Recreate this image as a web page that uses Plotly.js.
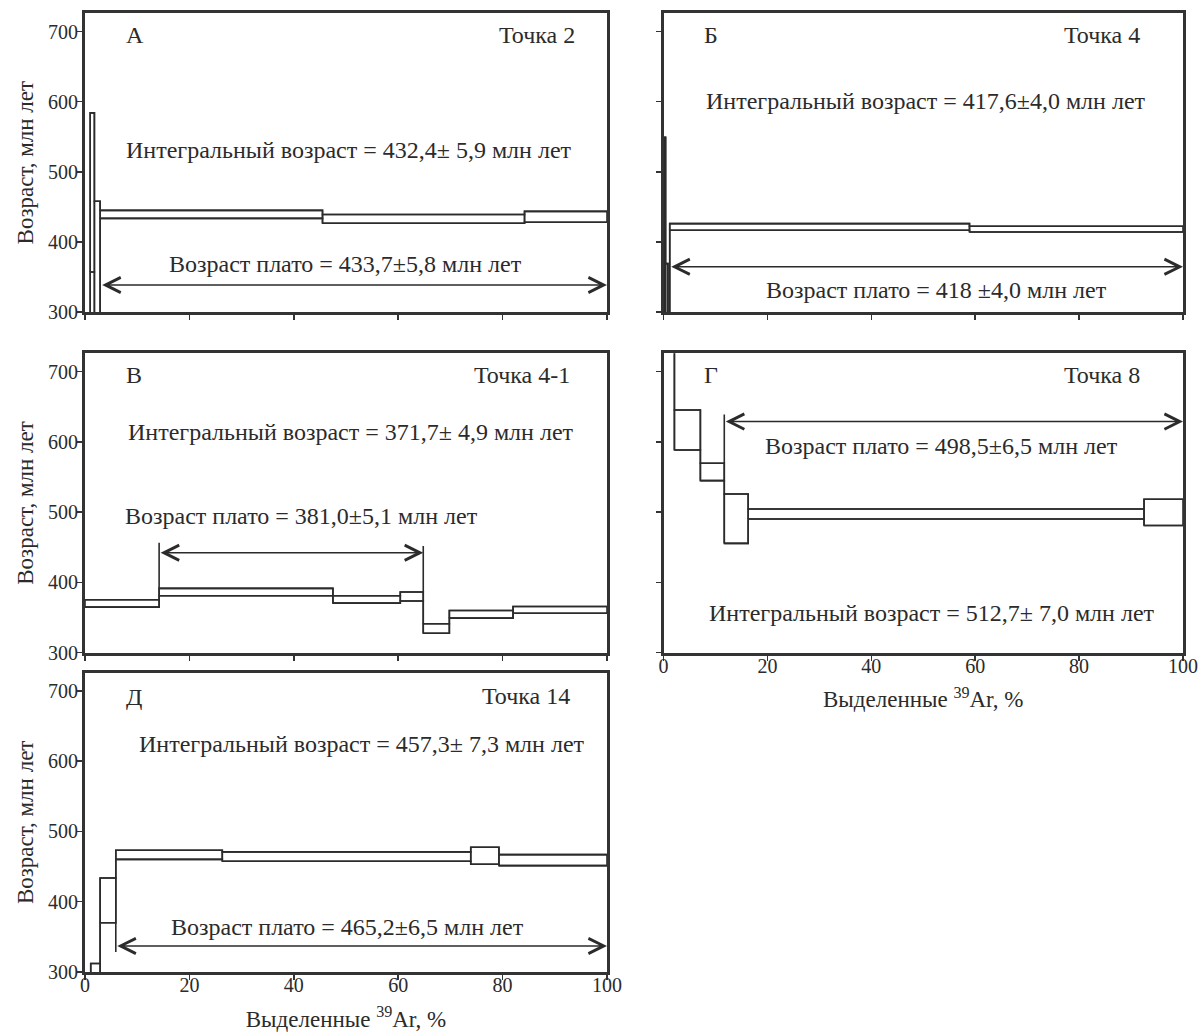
<!DOCTYPE html>
<html>
<head>
<meta charset="utf-8">
<script src="https://cdn.plot.ly/plotly-3.0.1.min.js"></script>
<style>
html,body{margin:0;padding:0;background:#ffffff;}
#chart{width:1198px;height:1034px;}
</style>
</head>
<body>
<div id="chart"></div>
<script>
// ---------- DATA ----------
// step boundaries (released 39Ar, %), upper and lower age bounds (Ma) of each step
const edgesA = [0, 1.0, 1.8, 2.9, 45.5, 84.2, 100];
const upperA = [280, 584, 458, 445, 439, 443.5];
const lowerA = [250, 357, 260, 433.5, 426.5, 428];

const edgesB = [0, 0.1, 0.4, 0.85, 1.2, 58.9, 100];
const upperB = [270, 549, 369, 290, 426, 422.3];
const lowerB = [250, 255, 260, 260, 416.6, 414.2];

const edgesV = [0, 14.2, 47.5, 60.4, 64.8, 69.8, 82.0, 100];
const upperV = [375.4, 391.6, 381.1, 386.4, 341.1, 360.1, 365.8];
const lowerV = [364.9, 381.1, 370.6, 373.5, 327.7, 349.2, 356.2];

const edgesG = [0, 2.1, 7.1, 11.7, 16.3, 92.5, 100];
const upperG = [800, 645.4, 569.5, 525.9, 504.5, 518.3];
const lowerG = [760, 588.4, 544.8, 455.6, 490.3, 481.0];

const edgesD = [0, 1.1, 2.9, 5.9, 26.3, 73.9, 79.3, 100];
const upperD = [280, 312, 433.8, 473.2, 471.0, 477.6, 467.1];
const lowerD = [250, 260, 370.2, 460.3, 457.6, 453.3, 451.4];

// plateau arrows: start / end (%), age level of the arrow (Ma)
const plateauStart = [3.0, 1.2, 14.2, 11.7, 5.9];
const plateauEnd = [100, 100, 64.8, 100, 100];
const plateauArrowAge = [338.5, 364.5, 442.2, 628.8, 337.1];

// plateau boundary marker segments (x, from age, to age)
const markerX = [[], [], [14.2, 64.8], [11.7], [5.9]];
const markerFrom = [[], [], [456.6, 451.8], [639.0], [370.2]];
const markerTo = [[], [], [391.6, 386.4], [569.5], [328.6]];

// labels
const panelLetters = ['А', 'Б', 'В', 'Г', 'Д'];
const pointNames = ['Точка 2', 'Точка 4', 'Точка 4-1', 'Точка 8', 'Точка 14'];
const integralAges = ['432,4± 5,9', '417,6±4,0', '371,7± 4,9', '512,7± 7,0', '457,3± 7,3'];
const plateauAges = ['433,7±5,8', '418 ±4,0', '381,0±5,1', '498,5±6,5', '465,2±6,5'];

const yTicks = [300, 400, 500, 600, 700];
const xTicks = [0, 20, 40, 60, 80, 100];
const xTickLabels = ['0', '20', '40', '60', '80', '100'];

// ---------- STYLE / LAYOUT ----------
const FONT = '"Liberation Serif", "Times New Roman", Times, serif';
const INK = '#2b2b2b';
const FRAME = '#333333';

const colL = [0.07095, 0.50668];
const colR = [0.55384, 0.98748];
const row1 = [0.69826, 0.98714];
const row2 = [0.36876, 0.65832];
const row3 = [0.05996, 0.34942];

const panels = [
  {edges: edgesA, up: upperA, lo: lowerA, xd: colL, yd: row1, yLab: true, xLab: false},
  {edges: edgesB, up: upperB, lo: lowerB, xd: colR, yd: row1, yLab: false, xLab: false},
  {edges: edgesV, up: upperV, lo: lowerV, xd: colL, yd: row2, yLab: true, xLab: false},
  {edges: edgesG, up: upperG, lo: lowerG, xd: colR, yd: row2, yLab: false, xLab: true},
  {edges: edgesD, up: upperD, lo: lowerD, xd: colL, yd: row3, yLab: true, xLab: true}
];

// annotation placement (x in %, y in Ma)
const letterPos = [[7.4, 695], [7.4, 695], [7.4, 695], [7.4, 695], [7.4, 692]];
const namePos = [[94.3, 695], [92.2, 695], [93.3, 695], [92.2, 695], [93.3, 693]];
const integralPos = [[50.5, 531], [50.6, 601], [50.9, 614], [51.6, 357], [53.0, 624]];
const plateauPos = [[50.0, 369], [52.6, 331], [41.5, 495], [53.5, 594], [50.2, 364]];

const traces = [];
const annotations = [];
const layout = {
  width: 1198, height: 1034,
  margin: {l: 0, r: 0, t: 0, b: 0},
  paper_bgcolor: '#ffffff', plot_bgcolor: '#ffffff',
  showlegend: false,
  font: {family: FONT, color: INK}
};

const lineStyle = {color: INK, width: 1.6};

panels.forEach((p, i) => {
  const n = i + 1;
  const xr = n === 1 ? 'x' : 'x' + n;
  const yr = n === 1 ? 'y' : 'y' + n;
  const xk = n === 1 ? 'xaxis' : 'xaxis' + n;
  const yk = n === 1 ? 'yaxis' : 'yaxis' + n;
  const nSteps = p.up.length;

  // step rectangles
  const rx = [], ry = [];
  for (let k = 0; k < nSteps; k++) {
    const x0 = p.edges[k], x1 = p.edges[k + 1];
    rx.push(x0, x1, x1, x0, x0, null);
    ry.push(p.lo[k], p.lo[k], p.up[k], p.up[k], p.lo[k], null);
  }
  traces.push({x: rx, y: ry, xaxis: xr, yaxis: yr, type: 'scatter', mode: 'lines',
    line: lineStyle, hoverinfo: 'skip', connectgaps: false});

  // upper and lower envelopes (step lines)
  const ex = p.edges.slice(0, nSteps).concat([p.edges[nSteps]]);
  traces.push({x: ex, y: p.up.concat([p.up[nSteps - 1]]), xaxis: xr, yaxis: yr,
    type: 'scatter', mode: 'lines', line: Object.assign({shape: 'hv'}, lineStyle), hoverinfo: 'skip'});
  traces.push({x: ex, y: p.lo.concat([p.lo[nSteps - 1]]), xaxis: xr, yaxis: yr,
    type: 'scatter', mode: 'lines', line: Object.assign({shape: 'hv'}, lineStyle), hoverinfo: 'skip'});

  // plateau boundary markers
  if (markerX[i].length) {
    const mx = [], my = [];
    markerX[i].forEach((v, j) => {
      mx.push(v, v, null);
      my.push(markerFrom[i][j], markerTo[i][j], null);
    });
    traces.push({x: mx, y: my, xaxis: xr, yaxis: yr, type: 'scatter', mode: 'lines',
      line: lineStyle, hoverinfo: 'skip'});
  }

  // axes
  layout[xk] = {
    domain: p.xd, anchor: yr, range: [0, 100], fixedrange: true,
    showgrid: false, zeroline: false, showline: true, mirror: true,
    linecolor: FRAME, linewidth: 3,
    ticks: 'outside', ticklen: 5, tickwidth: 1.5, tickcolor: FRAME,
    tickmode: 'array', tickvals: xTicks, ticktext: xTickLabels,
    showticklabels: p.xLab, ticklabeloverflow: 'allow', ticklabelstandoff: -12,
    tickfont: {family: FONT, size: 20, color: INK}
  };
  if (p.xLab) {
    layout[xk].title = {text: 'Выделенные <sup>39</sup>Ar, %', font: {family: FONT, size: 23, color: INK}, standoff: 16};
  }
  layout[yk] = {
    domain: p.yd, anchor: xr, range: [300, 726], fixedrange: true,
    showgrid: false, zeroline: false, showline: true, mirror: true,
    linecolor: FRAME, linewidth: 3,
    ticks: 'outside', ticklen: 5, tickwidth: 1.5, tickcolor: FRAME,
    tickmode: 'array', tickvals: yTicks,
    showticklabels: p.yLab, ticklabelstandoff: -5,
    tickfont: {family: FONT, size: 20, color: INK}
  };
  if (p.yLab) {
    layout[yk].title = {text: 'Возраст, млн лет', font: {family: FONT, size: 23, color: INK}, standoff: 8};
  }

  // texts
  const tf = {family: FONT, size: 24, color: INK};
  annotations.push({xref: xr, yref: yr, x: letterPos[i][0], y: letterPos[i][1], text: panelLetters[i],
    showarrow: false, xanchor: 'left', yanchor: 'middle', font: tf});
  annotations.push({xref: xr, yref: yr, x: namePos[i][0], y: namePos[i][1], text: pointNames[i],
    showarrow: false, xanchor: 'right', yanchor: 'middle', font: tf});
  annotations.push({xref: xr, yref: yr, x: integralPos[i][0], y: integralPos[i][1],
    text: 'Интегральный возраст = ' + integralAges[i] + ' млн лет',
    showarrow: false, xanchor: 'center', yanchor: 'middle', font: tf});
  annotations.push({xref: xr, yref: yr, x: plateauPos[i][0], y: plateauPos[i][1],
    text: 'Возраст плато = ' + plateauAges[i] + ' млн лет',
    showarrow: false, xanchor: 'center', yanchor: 'middle', font: tf});

  // plateau double arrow
  annotations.push({xref: xr, yref: yr, axref: xr, ayref: yr,
    x: plateauEnd[i], y: plateauArrowAge[i], ax: plateauStart[i], ay: plateauArrowAge[i],
    text: '', showarrow: true, arrowside: 'end+start', arrowhead: 5, startarrowhead: 5,
    arrowsize: 2.0, startarrowsize: 2.0, arrowwidth: 1.5, arrowcolor: INK,
    standoff: 0, startstandoff: 0});
});

layout.annotations = annotations;

Plotly.newPlot('chart', traces, layout, {staticPlot: true, displayModeBar: false});
</script>
</body>
</html>
